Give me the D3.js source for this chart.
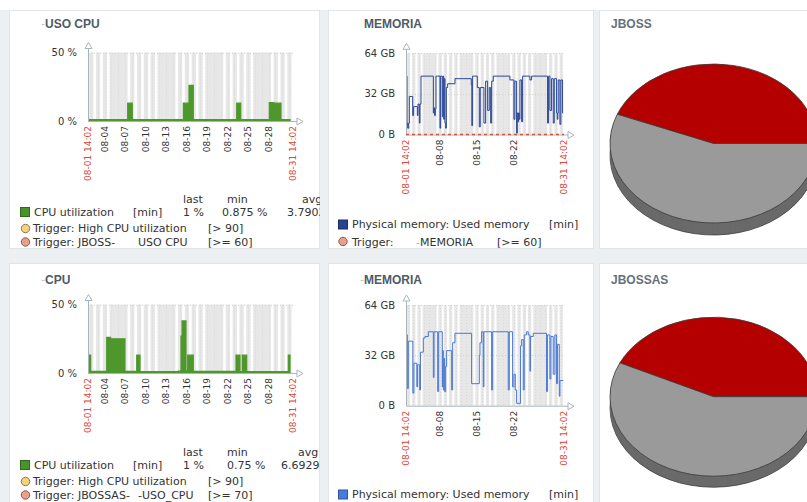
<!DOCTYPE html>
<html>
<head>
<meta charset="utf-8">
<script src="https://cdn.jsdelivr.net/npm/d3@7"></script>
<style>
  html, body { margin: 0; padding: 0; overflow: hidden; background: #edf0f2; }
  svg { display: block; font-family: "DejaVu Sans", sans-serif; }
</style>
</head>
<body>
<svg id="dash" width="807" height="502"></svg>
<script>
// ---- time range (labels drawn at both ends of every time axis) ----
const year = "2023";
const edgeLabels = ["08-01 14:02", "08-31 14:02"];
const cpuTickLabels = ["08-04", "08-07", "08-10", "08-13", "08-16", "08-19", "08-22", "08-25", "08-28"];
const memTickLabels = ["08-08", "08-15", "08-22"];

// ---- CPU utilization [min], % — step series, x = days since range start ----
const cpuJbossDays = [0, 5.81, 6.48, 13.95, 14.78, 15.41, 21.76, 22.35, 26.53, 27.2, 28.24, 29.65];
const cpuJbossVals = [1, 13, 1, 13, 26, 1, 13, 1, 13.5, 13, 1, 1];

const cpuJbossasDays = [0, 0.39, 2.74, 3.3, 5.41, 7.13, 7.61, 13.2, 13.45, 13.61, 13.76, 14.34, 14.59, 15.41, 21.66, 22.24, 22.58, 23.23, 29.31, 29.65];
const cpuJbossasVals = [13, 1.2, 26, 25, 1.2, 13, 1, 1.3, 0.75, 27, 38, 1.5, 13, 1.2, 13, 1, 13, 1, 13, 13];

// ---- Physical memory: Used memory [min], GB — step series ----
const memJbossDays = [0, 0.19, 0.32, 0.51, 0.63, 1.27, 1.45, 2.15, 2.28, 2.53, 2.66, 2.85,
  5.19, 5.31, 5.44, 5.57, 5.69, 6.45, 6.58, 6.89, 7.02, 7.15, 7.27, 7.4, 7.53, 7.66, 7.91, 9.3,
  12.4, 12.5, 12.65, 13.54, 13.92, 14.1, 14.8, 15.12, 15.5, 15.81, 16.07, 16.26, 16.57,
  19.73, 20.49, 20.68, 21.0, 21.13, 21.25, 21.38, 21.5, 21.63, 21.95, 22.14, 23.53, 23.85,
  26.88, 27.07, 27.32, 27.64, 27.96, 28.15, 28.59, 28.72, 28.84, 28.91, 29.22, 29.41, 29.73, 29.85];
const memJbossVals = [46, 9, 5, 9, 30, 15, 22, 15, 24, 9, 24, 46,
  17, 21, 15, 20, 46, 5, 46, 14, 46, 12, 44, 9, 5, 37, 40, 44,
  39, 7, 46, 37, 6, 37, 9, 42, 19, 37, 9, 42, 46,
  43, 12, 42, 1, 17, 10, 17, 12, 43, 10, 46, 43, 46,
  9, 46, 19, 44, 9, 44, 17, 12, 17, 43, 8, 43, 17, 17];

const memJbossasDays = [0, 0.25, 0.44, 1.3, 1.5, 2.05, 2.2, 2.6, 2.75, 3.29, 3.61, 4.24,
  5.19, 5.32, 6.01, 6.2, 6.89, 6.98, 7.08, 7.21, 7.34, 7.53, 7.72, 8.67, 8.86, 9.3,
  12.46, 13.92, 14.04, 14.36, 14.67, 14.8, 16.26, 16.45, 19.42, 19.61, 20.24, 20.49, 20.75, 21.0,
  21.75, 21.95, 22.26, 22.45, 22.9, 23.21, 23.53, 23.66, 24.16, 26.69, 26.88, 27.32, 27.51,
  27.96, 28.27, 28.59, 28.78, 29.1, 29.22, 29.85];
const memJbossasVals = [45, 11, 41, 8, 27, 12, 26, 10, 34, 43, 44, 47,
  18, 47, 9, 47, 12, 35, 10, 30, 9, 25, 35, 10, 40, 46,
  14, 32, 40, 47, 12, 47, 10, 47, 10, 47, 12, 20, 10, 1.5,
  38, 42, 10, 45, 47, 45, 22, 44, 46, 9, 45, 17, 44,
  20, 45, 14, 39, 6, 16, 16];

// ---- pie widgets: shares of the two slices (red, grey) ----
const jbossShares = [44, 56];
const jbossasShares = [43, 57];
const pieColors = ["#b50000", "#9a9a9a"];
const pieSideColors = ["#7a0000", "#6a6a6a"];

// ---- y axes ----
const cpuYTicks = [0, 50], cpuYLabels = ["0 %", "50 %"];
const memYTicks = [0, 32, 64], memYLabels = ["0 B", "32 GB", "64 GB"];

const parseFull = d3.timeParse("%Y-%m-%d %H:%M");
const parseDay = d3.timeParse("%Y-%m-%d");
const rangeStart = parseFull(`${year}-${edgeLabels[0]}`);
const rangeEnd = parseFull(`${year}-${edgeLabels[1]}`);
const atDay = d => new Date(+rangeStart + d * 864e5);
const series = (days, vals) => days.map((d, i) => ({ t: atDay(d), v: vals[i] }));

const svg = d3.select("#dash");
svg.append("rect").attr("width", 807).attr("height", 10).attr("fill", "#fff");

function panel(id, x, y, w, h) {
  svg.append("clipPath").attr("id", id).append("rect").attr("x", x).attr("y", y).attr("width", w).attr("height", h);
  const g = svg.append("g").attr("clip-path", `url(#${id})`);
  g.append("rect").attr("x", x + 0.5).attr("y", y + 0.5).attr("width", w - 1).attr("height", h - 1)
    .attr("fill", "#fff").attr("stroke", "#e1e5e8");
  return g;
}

function title(g, x, y, parts, color) {
  const t = g.append("text").attr("x", x).attr("y", y)
    .attr("font-family", "'Liberation Sans', Arial, sans-serif").attr("font-weight", "bold")
    .attr("font-size", 12).attr("fill", color || "#4f5b66");
  parts.forEach(p => t.append("tspan").attr("fill", p.faint ? "#c4c9cd" : null).attr("font-weight", p.faint ? "normal" : null).text(p.s));
}

function timeChart(g, o) {
  const x = d3.scaleTime().domain([rangeStart, rangeEnd]).range([o.left, o.right]);
  const y = d3.scaleLinear().domain([0, o.yMax]).range([o.bottom, o.top]);
  const h = o.bottom - o.top;

  // non-working time
  g.append("rect").attr("x", o.left).attr("y", o.top).attr("width", o.right - o.left).attr("height", h).attr("fill", "#e7e7e7");
  // working time: Mon-Fri 09:00-18:00
  const work = d3.timeDay.range(d3.timeDay.floor(rangeStart), rangeEnd)
    .filter(d => d.getDay() !== 0 && d.getDay() !== 6)
    .map(d => [new Date(Math.max(+d3.timeHour.offset(d, 9), +rangeStart)), new Date(Math.min(+d3.timeHour.offset(d, 18), +rangeEnd))])
    .filter(p => p[1] > p[0]);
  g.selectAll(null).data(work).join("rect")
    .attr("x", d => x(d[0])).attr("y", o.top).attr("width", d => x(d[1]) - x(d[0])).attr("height", h).attr("fill", "#fff");

  // daily grid
  g.selectAll(null).data(d3.timeDay.range(d3.timeDay.ceil(rangeStart), rangeEnd)).join("line")
    .attr("x1", d => Math.round(x(d)) + 0.5).attr("x2", d => Math.round(x(d)) + 0.5)
    .attr("y1", o.top).attr("y2", o.bottom)
    .attr("stroke", "#d9d9d9").attr("stroke-dasharray", "1,2");
  // horizontal grid
  g.selectAll(null).data(o.yTicks.filter(v => v > 0)).join("line")
    .attr("x1", o.left).attr("x2", o.right).attr("y1", d => Math.round(y(d)) + 0.5).attr("y2", d => Math.round(y(d)) + 0.5)
    .attr("stroke", "#d2d2d2").attr("stroke-dasharray", "1,2");

  // data
  const data = series(o.days, o.vals);
  if (o.area) {
    g.append("path").datum(data)
      .attr("d", d3.area().curve(d3.curveStepAfter).x(d => x(d.t)).y0(y(0)).y1(d => y(d.v)))
      .attr("fill", o.color);
  }
  g.append("path").datum(data)
    .attr("d", d3.line().curve(d3.curveStepAfter).x(d => x(d.t)).y(d => y(d.v)))
    .attr("fill", "none").attr("stroke", o.color).attr("stroke-width", o.area ? 1.2 : 1);

  // axes with open arrow heads
  const ac = "#a9b5bd";
  g.append("line").attr("x1", o.left + 0.5).attr("x2", o.left + 0.5).attr("y1", o.bottom).attr("y2", o.top - 6).attr("stroke", ac);
  g.append("line").attr("x1", o.left).attr("x2", o.right + 6).attr("y1", o.bottom + 0.5).attr("y2", o.bottom + 0.5).attr("stroke", ac);
  g.append("path").attr("d", `M${o.left - 3},${o.top - 4}L${o.left + 0.5},${o.top - 10}L${o.left + 4},${o.top - 4}Z`)
    .attr("fill", "#fff").attr("stroke", ac);
  g.append("path").attr("d", `M${o.right + 4},${o.bottom - 3}L${o.right + 10},${o.bottom + 0.5}L${o.right + 4},${o.bottom + 4}Z`)
    .attr("fill", "#fff").attr("stroke", ac);

  if (o.trigger) {
    g.append("line").attr("x1", o.left).attr("x2", o.right).attr("y1", y(0)).attr("y2", y(0))
      .attr("stroke", "#c65a44").attr("stroke-width", 1.5).attr("stroke-dasharray", "3,3");
  }

  // y labels
  g.selectAll(null).data(o.yTicks).join("text")
    .attr("x", o.left - 11).attr("y", d => y(d)).attr("dy", "0.35em")
    .attr("text-anchor", "end").attr("font-size", 10).attr("fill", "#333")
    .text((d, i) => o.yLabels[i]);

  // x labels (rotated)
  const ticks = o.ticks.map(s => ({ t: parseDay(`${year}-${s}`), s, edge: false }))
    .concat(edgeLabels.map(s => ({ t: parseFull(`${year}-${s}`), s, edge: true })));
  g.selectAll(null).data(ticks).join("text")
    .attr("transform", d => `translate(${x(d.t)},${o.bottom + 5}) rotate(-90)`)
    .attr("dy", "0.35em").attr("text-anchor", "end").attr("font-size", 9)
    .attr("fill", d => d.edge ? "#dc4436" : "#333")
    .text(d => d.s);
}

function txt(g, x, y, s, opts = {}) {
  const t = g.append("text").attr("x", x).attr("y", y).attr("font-size", 11).attr("fill", opts.fill || "#333");
  if (opts.anchor) t.attr("text-anchor", opts.anchor);
  (Array.isArray(s) ? s : [{ s }]).forEach(p => t.append("tspan").attr("fill", p.faint ? "#b0b6bb" : null).text(p.s));
  return t;
}
function square(g, x, y, fill, stroke) {
  g.append("rect").attr("x", x + 0.5).attr("y", y + 0.5).attr("width", 9).attr("height", 9).attr("fill", fill).attr("stroke", stroke);
}
function dot(g, cx, cy, fill, stroke) {
  g.append("circle").attr("cx", cx).attr("cy", cy).attr("r", 4.2).attr("fill", fill).attr("stroke", stroke);
}

function cpuLegend(g, dy, vals, triggerName, triggerSuffix, triggerLevel) {
  txt(g, 183, 203 + dy, "last"); txt(g, 227, 203 + dy, "min"); txt(g, vals.avgX, 203 + dy, "avg");
  square(g, 20, 207 + dy, "#4a922a", "#2f6a1a");
  txt(g, 34, 215.5 + dy, "CPU utilization"); txt(g, 133, 215.5 + dy, "[min]");
  txt(g, 183, 215.5 + dy, vals.last); txt(g, vals.minX, 215.5 + dy, vals.min); txt(g, vals.avgValX, 215.5 + dy, vals.avg);
  dot(g, 25.5, 228.5 + dy, "#f6d17e", "#8c7a4e");
  txt(g, 33, 232 + dy, "Trigger: High CPU utilization"); txt(g, 208, 232 + dy, "[> 90]");
  dot(g, 25.5, 242 + dy, "#e6a08b", "#8a5a4b");
  txt(g, 33, 245.5 + dy, triggerName); txt(g, 138, 245.5 + dy, triggerSuffix); txt(g, 208, 245.5 + dy, triggerLevel);
}

function pie3d(g, cx, cy, rx, ry, depth, shares) {
  const total = d3.sum(shares);
  const start = Math.PI / 2 - shares[0] / total * 2 * Math.PI;
  const slices = d3.pie().sort(null).startAngle(start).endAngle(start + 2 * Math.PI)(shares);
  const arc = d3.arc().innerRadius(0).outerRadius(rx);
  for (let k = depth; k >= 1; k--) {
    const layer = g.append("g").attr("transform", `translate(${cx},${cy + k}) scale(1,${ry / rx})`);
    layer.selectAll(null).data(slices).join("path").attr("d", arc)
      .attr("fill", (d, i) => pieSideColors[i])
      .attr("stroke", k === depth ? "#3a3a3a" : "none").attr("stroke-width", 0.8)
      .attr("vector-effect", "non-scaling-stroke");
  }
  const top = g.append("g").attr("transform", `translate(${cx},${cy}) scale(1,${ry / rx})`);
  top.selectAll(null).data(slices).join("path").attr("d", arc)
    .attr("fill", (d, i) => pieColors[i])
    .attr("stroke", "#3a3a3a").attr("stroke-width", 0.8).attr("vector-effect", "non-scaling-stroke");
}

// ---------------- row 1 ----------------
const p1 = panel("c1", 9, 10, 311, 239);
title(p1, 41, 28, [{ s: "-", faint: true }, { s: "USO CPU" }]);
timeChart(p1, { left: 88, right: 293, top: 52.5, bottom: 121, yMax: 50, yTicks: cpuYTicks, yLabels: cpuYLabels,
  ticks: cpuTickLabels, days: cpuJbossDays, vals: cpuJbossVals, color: "#4e972c", area: true });
cpuLegend(p1, 0, { last: "1 %", min: "0.875 %", minX: 222, avg: "3.7902", avgX: 302, avgValX: 287 },
  "Trigger: JBOSS-", "USO CPU", "[>= 60]");

const p2 = panel("c2", 328, 10, 266, 239);
title(p2, 364, 28, [{ s: "MEMORIA" }]);
timeChart(p2, { left: 406, right: 564, top: 53.3, bottom: 134.5, yMax: 64, yTicks: memYTicks, yLabels: memYLabels,
  ticks: memTickLabels, days: memJbossDays, vals: memJbossVals, color: "#2a4696", area: false, trigger: true });
square(p2, 338, 219.5, "#27428f", "#1a2e66");
txt(p2, 352, 228, "Physical memory: Used memory"); txt(p2, 549, 228, "[min]");
dot(p2, 343, 241.5, "#e6a08b", "#8a5a4b");
txt(p2, 352, 245.5, "Trigger:"); txt(p2, 416, 245.5, [{ s: "-", faint: true }, { s: "MEMORIA" }]); txt(p2, 497, 245.5, "[>= 60]");

const p3 = panel("c3", 599, 10, 220, 239);
title(p3, 611, 28, [{ s: "JBOSS" }], "#66717b");
pie3d(p3, 713.5, 143.5, 103.5, 79.5, 12, jbossShares);

// ---------------- row 2 ----------------
const p4 = panel("c4", 9, 263, 311, 250);
title(p4, 41, 284, [{ s: "-", faint: true }, { s: "CPU" }]);
timeChart(p4, { left: 88, right: 293, top: 304.5, bottom: 373, yMax: 50, yTicks: cpuYTicks, yLabels: cpuYLabels,
  ticks: cpuTickLabels, days: cpuJbossasDays, vals: cpuJbossasVals, color: "#4e972c", area: true });
cpuLegend(p4, 253, { last: "1 %", min: "0.75 %", minX: 227, avg: "6.6929", avgX: 298, avgValX: 281 },
  "Trigger: JBOSSAS-", "-USO_CPU", "[>= 70]");

const p5 = panel("c5", 328, 263, 266, 250);
title(p5, 360, 284, [{ s: "-", faint: true }, { s: "MEMORIA" }]);
timeChart(p5, { left: 406, right: 564, top: 305, bottom: 405.7, yMax: 64, yTicks: memYTicks, yLabels: memYLabels,
  ticks: memTickLabels, days: memJbossasDays, vals: memJbossasVals, color: "#4a78d4", area: false });
square(p5, 338, 489.5, "#4a7bd8", "#2c55a8");
txt(p5, 352, 498, "Physical memory: Used memory"); txt(p5, 549, 498, "[min]");

const p6 = panel("c6", 599, 263, 220, 250);
title(p6, 611, 284, [{ s: "JBOSSAS" }], "#66717b");
pie3d(p6, 713.5, 396.7, 103.5, 79.5, 11, jbossasShares);
</script>
</body>
</html>
